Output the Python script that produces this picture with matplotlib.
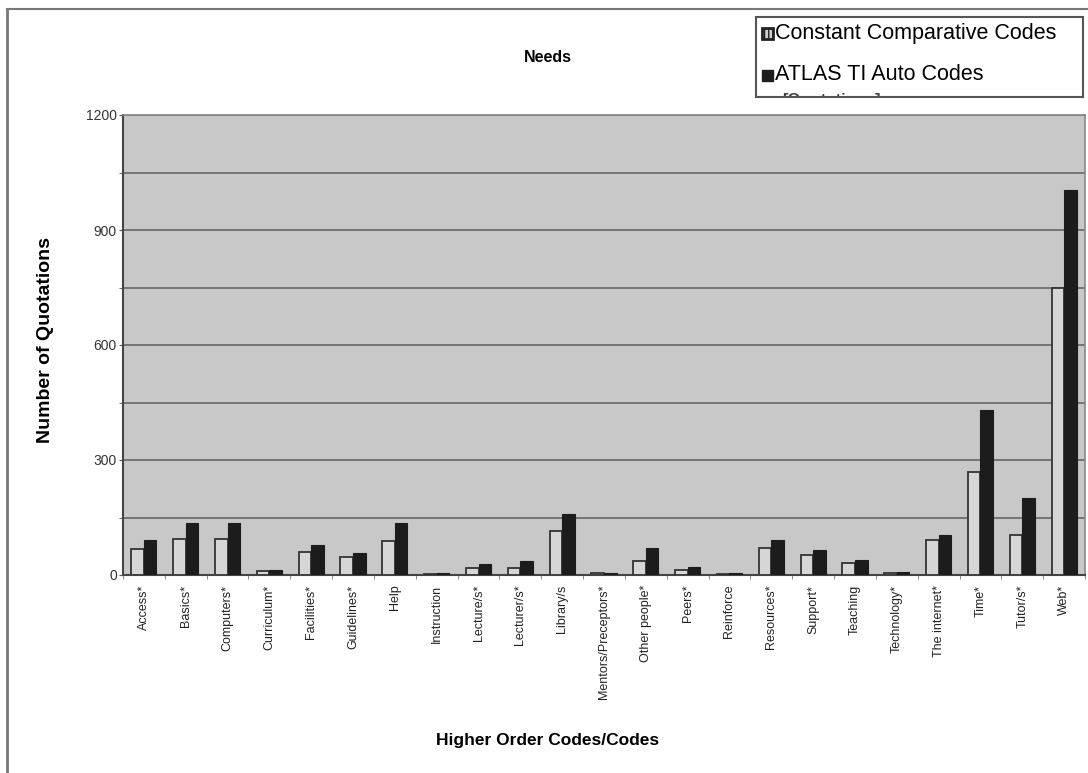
import matplotlib
matplotlib.use("Agg")
import matplotlib.pyplot as plt
import numpy as np
from matplotlib.patches import Rectangle
from matplotlib.lines import Line2D
from matplotlib.transforms import Bbox

plt.rcParams['font.family'] = ['Liberation Sans', 'DejaVu Sans']

categories = ["Access*", "Basics*", "Computers*", "Curriculum*", "Facilities*",
              "Guidelines*", "Help", "Instruction", "Lecture/s*", "Lecturer/s*",
              "Library/s", "Mentors/Preceptors*", "Other people*", "Peers*",
              "Reinforce", "Resources*", "Support*", "Teaching", "Technology*",
              "The internet*", "Time*", "Tutor/s*", "Web*"]
ccc_values = [68, 93, 95, 10, 61, 48, 89, 3, 18, 17, 115, 4, 37, 14, 2,
              70, 52, 32, 4, 92, 270, 105, 750]
atlas_values = [91, 135, 135, 14, 78, 58, 135, 5, 29, 36, 160, 5, 71, 22, 4,
                92, 64, 38, 8, 105, 430, 200, 1005]
y_ticks = [0, 300, 600, 900, 1200]
series_names = ["Constant Comparative Codes", "ATLAS TI Auto Codes"]

fig = plt.figure(figsize=(10.88, 7.73), dpi=100)
fig.patch.set_facecolor("white")
ax = fig.add_axes([123/1088, (773-575)/773, (1085-123)/1088, (575-115)/773])
ax.set_facecolor("#c8c8c8")

x = np.arange(len(categories))
w = 0.3
ax.bar(x - w/2, ccc_values, width=w, color="#d6d6d6", edgecolor="#333333",
       linewidth=1.3, zorder=3, label=series_names[0])
ax.bar(x + w/2, atlas_values, width=w, color="#1c1c1c", edgecolor="#1c1c1c",
       linewidth=0.8, zorder=3, label=series_names[1])

ax.set_xlim(-0.5, len(categories) - 0.5)
ax.set_ylim(0, 1200)
ax.set_yticks(y_ticks)
ax.set_yticklabels([str(v) for v in y_ticks], fontsize=10, color="#333333")
ax.set_yticks(np.arange(0, 1201, 150), minor=True)
ax.yaxis.grid(True, which="both", color="#6e6e6e", linewidth=1.3, zorder=1)
ax.tick_params(axis="y", which="both", length=3, pad=1.5, color="#555555")

ax.set_xticks(x)
ax.set_xticklabels(categories, rotation=90, fontsize=9, color="#222222")
ax.set_xticks(np.arange(-0.5, len(categories), 1.0), minor=True)
ax.tick_params(axis="x", which="major", length=0, pad=7)
ax.tick_params(axis="x", which="minor", length=3, color="#777777")

for s in ["top", "right"]:
    ax.spines[s].set_color("#888888")
    ax.spines[s].set_linewidth(1.2)
for s in ["left", "bottom"]:
    ax.spines[s].set_color("#444444")
    ax.spines[s].set_linewidth(1.5)

ax.set_ylabel("Number of Quotations", fontsize=14, fontweight="bold")
ax.yaxis.set_label_coords(-0.072, 0.51)
fig.text(548/1088, 1 - 57/773, "Needs", ha="center", va="center",
         fontsize=11.5, fontweight="bold")
fig.text(548/1088, 1 - 740/773, "Higher Order Codes/Codes", ha="center",
         va="center", fontsize=12.5, fontweight="bold",
         family=["Liberation Sans Narrow", "Liberation Sans"])

# outer frame (top and left edges)
fig.add_artist(Line2D([7/1088, 1.0], [1 - 9/773, 1 - 9/773],
                      transform=fig.transFigure, color="#777777", linewidth=1.5))
fig.add_artist(Line2D([7/1088, 7/1088], [0, 1 - 9/773],
                      transform=fig.transFigure, color="#777777", linewidth=2))

# legend box
lx0, lx1, ly0, ly1 = 756/1088, 1083/1088, 1 - 97/773, 1 - 17/773
fig.add_artist(Rectangle((lx0, ly0), lx1 - lx0, ly1 - ly0, transform=fig.transFigure,
                         facecolor="white", edgecolor="#555555", linewidth=1.5))
fig.add_artist(Rectangle((762/1088, 1 - 39/773), 11/1088, 11/773,
                         transform=fig.transFigure, facecolor="#cfcfcf",
                         edgecolor="#222222", linewidth=2, hatch="||||"))
fig.add_artist(Rectangle((762/1088, 1 - 81/773), 11/1088, 11/773,
                         transform=fig.transFigure, facecolor="#1c1c1c",
                         edgecolor="#1c1c1c", linewidth=1))
fig.text(775/1088, 1 - 33/773, series_names[0], ha="left", va="center", fontsize=15.5)
fig.text(775/1088, 1 - 75/773, series_names[1], ha="left", va="center", fontsize=15.5)
t = fig.text(782/1088, 1 - 100/773, "[Quotations]", ha="left", va="center",
             fontsize=12, fontweight="bold", color="#444444")
t.set_clip_box(Bbox.from_extents(0, 773 - 96, 1088, 773))
t.set_clip_on(True)

fig.savefig("out.png", dpi=100)
